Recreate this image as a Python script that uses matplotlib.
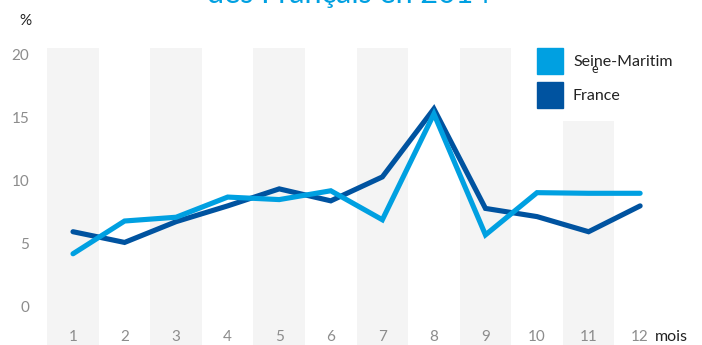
import matplotlib
matplotlib.use("Agg")
import matplotlib.pyplot as plt
import matplotlib.patches as mpatches

months = [1, 2, 3, 4, 5, 6, 7, 8, 9, 10, 11, 12]
seine_maritime = [4.3, 6.9, 7.2, 8.8, 8.6, 9.3, 7.0, 15.4, 5.8, 9.15, 9.1, 9.1]
france = [6.05, 5.2, 6.85, 8.1, 9.45, 8.5, 10.4, 15.8, 7.9, 7.25, 6.05, 8.1]
y_ticks = [0, 5, 10, 15, 20]
title = "des Français en 2014"

LIGHT = "#00A0E1"
DARK = "#0053A0"
BAND = "#F4F4F4"
TICK = "#8C8C8C"

fig = plt.figure(figsize=(7.02, 3.45), dpi=100)
ax = fig.add_axes([0, 0, 1, 1])
ax.set_xlim(-0.416, 13.20)
ax.set_ylim(-2.94, 24.44)
ax.axis("off")

# alternating background columns for odd months
for m in months:
    if m % 2 == 1:
        top = 14.84 if m == 11 else 20.63
        ax.bar(m, top + 3, bottom=-3, width=1.0, color=BAND, zorder=0)

ax.plot(months, seine_maritime, color=LIGHT, lw=3.7,
        solid_capstyle="round", solid_joinstyle="miter", zorder=3)
ax.plot(months, france, color=DARK, lw=3.7,
        solid_capstyle="round", solid_joinstyle="miter", zorder=2)

font = "Lato"
for v in y_ticks:
    ax.text(0.15, v, str(v), ha="right", va="center", color=TICK,
            fontsize=11, family=font, zorder=5)
for m in months:
    ax.text(m, -2.3, str(m), ha="center", va="center", color=TICK,
            fontsize=11, family=font, zorder=5)
ax.text(12.28, -2.3, "mois", ha="left", va="center", color="#222222",
        fontsize=11.5, family=font, zorder=5)
ax.text(0.07, 22.8, "%", ha="center", va="center", color="#222222",
        fontsize=11, family=font, zorder=5)

# title sits partly above the canvas
fig.text(0.497, 1.0 + 6 / 345, title, ha="center", va="center", color=LIGHT,
         fontsize=22, family=font)

# legend
for i, (lab, col) in enumerate([("Seine-Maritim", LIGHT), ("France", DARK)]):
    y0 = 1 - (48 + i * 34) / 345
    fig.patches.append(mpatches.Rectangle((537 / 702, y0 - 26 / 345), 26 / 702, 26 / 345,
                                          transform=fig.transFigure, color=col))
    fig.text(573 / 702, y0 - 14 / 345, lab, ha="left", va="center",
             color="#222222", fontsize=11.5, family=font)
fig.text(592 / 702, 1 - 69 / 345, "e", ha="left", va="center",
         color="#222222", fontsize=9, family=font)

fig.savefig("out.png", dpi=100)
